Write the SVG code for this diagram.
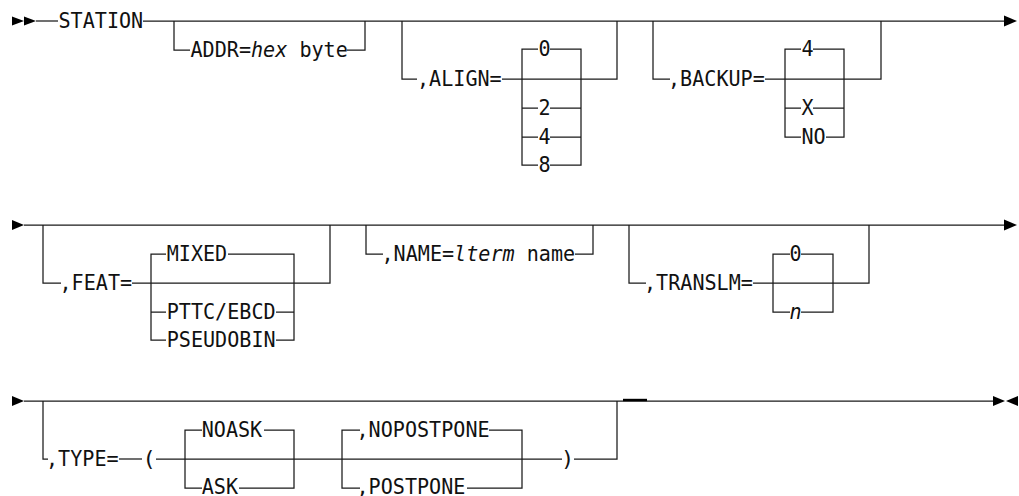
<svg xmlns="http://www.w3.org/2000/svg" width="1019" height="496" viewBox="0 0 1019 496">
<style>
text{font-family:"DejaVu Sans Mono","Liberation Mono",monospace;font-size:22px;fill:#111}
.i{font-style:italic}
.m{text-anchor:middle}
#connectors path{fill:none;stroke:#1a1a1a;stroke-width:1.25}
#connectors .thick{stroke-width:2.4;stroke:#000}
.arrow{fill:#000}
</style>
<rect width="1019" height="496" fill="#fff"/>
<g id="connectors">
<path d="M36,21 H58"/>
<path d="M143,21 H1004"/>
<path d="M174,21 V50 H190"/>
<path d="M347,50 H365 V21"/>
<path d="M402,21 V79 H417"/>
<path d="M502,79 H617 V21"/>
<path d="M538,49 H522 V165 H538 M522,108 H538 M522,137 H538"/>
<path d="M550,49 H581 V165 H550 M550,108 H581 M550,137 H581"/>
<path d="M653,21 V79 H670"/>
<path d="M765,79 H881 V21"/>
<path d="M801,49 H785 V137 H801 M785,108 H801"/>
<path d="M813,49 H844 V137 H826 M813,108 H844"/>
<path d="M24,225 H1004"/>
<path d="M43,225 V283 H61"/>
<path d="M132,283 H330 V225"/>
<path d="M166,254 H151 V340 H166 M151,312 H166"/>
<path d="M228,254 H294 V340 H276 M276,312 H294"/>
<path d="M366,225 V254 H383"/>
<path d="M575,254 H593 V225"/>
<path d="M629,225 V283 H646"/>
<path d="M753,283 H869 V225"/>
<path d="M790,254 H773 V312 H790"/>
<path d="M801,254 H833 V312 H801"/>
<path d="M24,401 H993"/>
<path d="M43,401 V459 H48"/>
<path d="M119,459 H142"/>
<path d="M156,459 H562"/>
<path d="M202,430 H185 V488 H202"/>
<path d="M264,430 H294 V488 H239"/>
<path d="M360,430 H342 V488 H360"/>
<path d="M489,430 H522 V488 H467"/>
<path d="M574,459 H617 V401"/>
<path class="thick" d="M623,400 H647"/>
<polygon class="arrow" points="12,16.5 24,21 12,25.5"/>
<polygon class="arrow" points="24,16.5 36,21 24,25.5"/>
<polygon class="arrow" points="1004,15.5 1017,21 1004,26.5"/>
<polygon class="arrow" points="12,220 24,225 12,230"/>
<polygon class="arrow" points="1004,219.5 1017,225 1004,230.5"/>
<polygon class="arrow" points="12,396 24,401 12,406"/>
<polygon class="arrow" points="993,396 1005,401 993,406"/>
<polygon class="arrow" points="1018,396 1006,401 1018,406"/>
</g>
<g id="station"><text x="58.5" y="28" textLength="84.7" lengthAdjust="spacingAndGlyphs">STATION</text></g>
<g id="addr">
<text x="190.5" y="57" textLength="60.5" lengthAdjust="spacingAndGlyphs">ADDR=</text>
<text x="251" y="57" class="i" textLength="36.3" lengthAdjust="spacingAndGlyphs">hex</text>
<text x="299.4" y="57" textLength="48.4" lengthAdjust="spacingAndGlyphs">byte</text>
</g>
<g id="align"><text x="417" y="86" textLength="84.7" lengthAdjust="spacingAndGlyphs">,ALIGN=</text></g>
<g id="align-0"><text x="538.5" y="56" textLength="12.1" lengthAdjust="spacingAndGlyphs">0</text></g>
<g id="align-2"><text x="538.5" y="115" textLength="12.1" lengthAdjust="spacingAndGlyphs">2</text></g>
<g id="align-4"><text x="538.5" y="144" textLength="12.1" lengthAdjust="spacingAndGlyphs">4</text></g>
<g id="align-8"><text x="538.5" y="172" textLength="12.1" lengthAdjust="spacingAndGlyphs">8</text></g>
<g id="backup"><text x="668" y="86" textLength="96.8" lengthAdjust="spacingAndGlyphs">,BACKUP=</text></g>
<g id="backup-4"><text x="801.5" y="56" textLength="12.1" lengthAdjust="spacingAndGlyphs">4</text></g>
<g id="backup-x"><text x="801.5" y="115" textLength="12.1" lengthAdjust="spacingAndGlyphs">X</text></g>
<g id="backup-no"><text x="801.5" y="144" textLength="24.2" lengthAdjust="spacingAndGlyphs">NO</text></g>
<g id="feat"><text x="59.5" y="290" textLength="72.6" lengthAdjust="spacingAndGlyphs">,FEAT=</text></g>
<g id="feat-mixed"><text x="166.7" y="261" textLength="60.5" lengthAdjust="spacingAndGlyphs">MIXED</text></g>
<g id="feat-pttc"><text x="166.7" y="319" textLength="108.9" lengthAdjust="spacingAndGlyphs">PTTC/EBCD</text></g>
<g id="feat-pseudobin"><text x="166.7" y="347" textLength="108.9" lengthAdjust="spacingAndGlyphs">PSEUDOBIN</text></g>
<g id="name">
<text x="381.5" y="261" textLength="72.6" lengthAdjust="spacingAndGlyphs">,NAME=</text>
<text x="454.1" y="261" class="i" textLength="60.5" lengthAdjust="spacingAndGlyphs">lterm</text>
<text x="526.7" y="261" textLength="48.4" lengthAdjust="spacingAndGlyphs">name</text>
</g>
<g id="translm"><text x="644" y="290" textLength="108.9" lengthAdjust="spacingAndGlyphs">,TRANSLM=</text></g>
<g id="translm-0"><text x="789.5" y="261" textLength="12.1" lengthAdjust="spacingAndGlyphs">0</text></g>
<g id="translm-n"><text x="789.5" y="319" class="i" textLength="12.1" lengthAdjust="spacingAndGlyphs">n</text></g>
<g id="type"><text x="46" y="466" textLength="72.6" lengthAdjust="spacingAndGlyphs">,TYPE=</text></g>
<g id="lparen"><text x="149" y="466" class="m">(</text></g>
<g id="type-noask"><text x="201.7" y="437" textLength="60.5" lengthAdjust="spacingAndGlyphs">NOASK</text></g>
<g id="type-ask"><text x="201.7" y="494" textLength="36.3" lengthAdjust="spacingAndGlyphs">ASK</text></g>
<g id="type-nopostpone"><text x="356.5" y="437" textLength="133.1" lengthAdjust="spacingAndGlyphs">,NOPOSTPONE</text></g>
<g id="type-postpone"><text x="356.5" y="494" textLength="108.9" lengthAdjust="spacingAndGlyphs">,POSTPONE</text></g>
<g id="rparen"><text x="567.5" y="466" class="m">)</text></g>
</svg>
